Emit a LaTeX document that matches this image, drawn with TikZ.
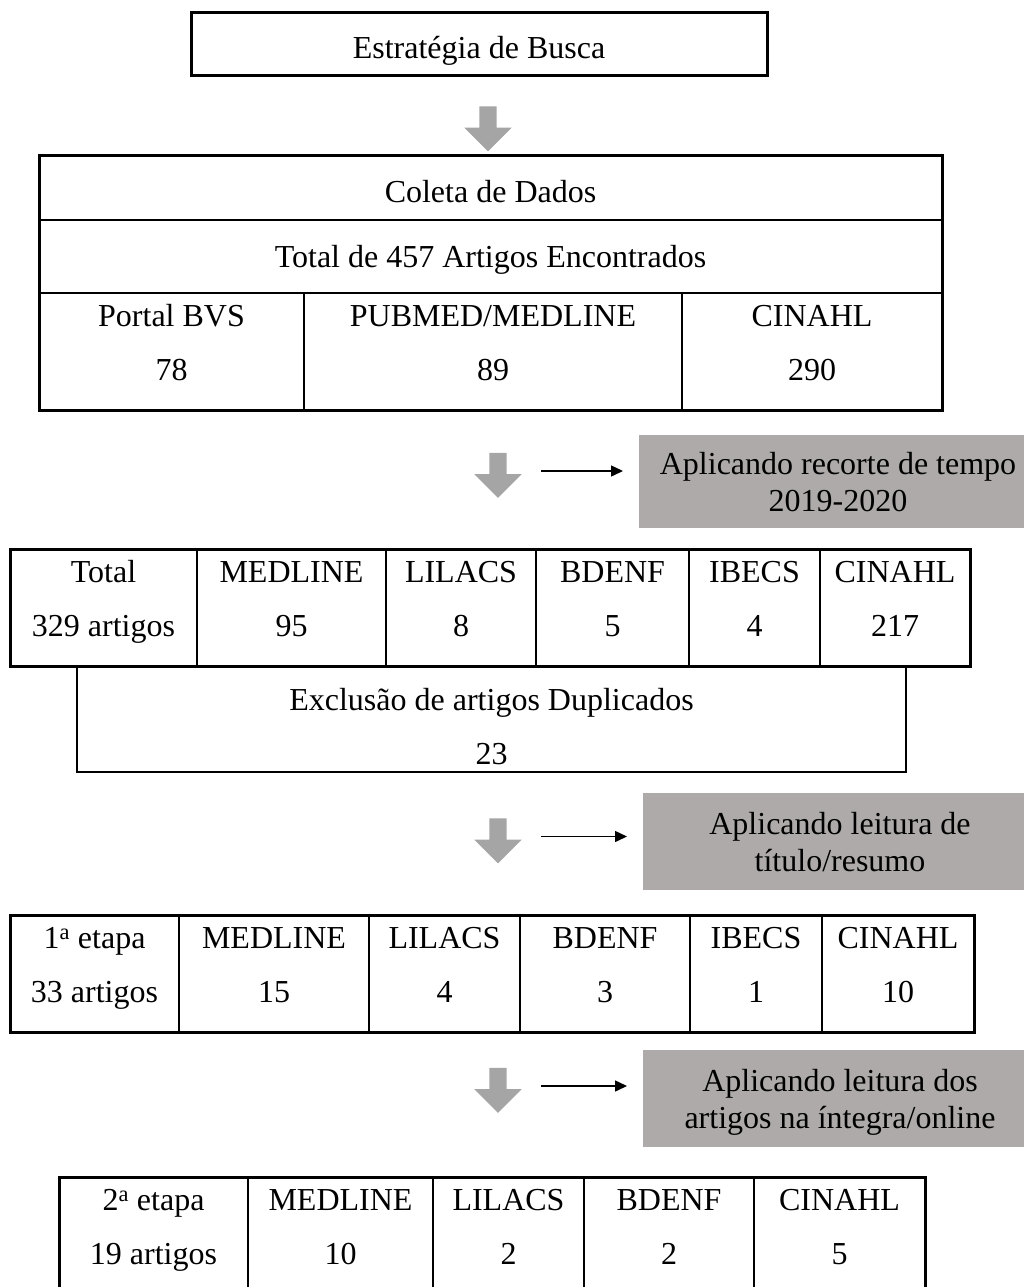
\documentclass[tikz,border=0pt]{standalone}
\usepackage{fontspec}
\setmainfont{Liberation Serif}
\usetikzlibrary{arrows.meta,positioning,shapes.arrows}
\definecolor{flowgray}{HTML}{A5A5A5}
\definecolor{cutgray}{HTML}{AEAAAA}

\begin{document}
\begin{tikzpicture}[x=1pt,y=-1pt,node distance=0pt, every node/.style={font=\fontsize{32}{54}\selectfont,align=center,inner sep=0pt,outer sep=0pt}]
\tikzset{cell/.style={draw,line width=2pt,minimum height=117pt,text height=76pt,text depth=18pt}, row/.style={text height=22pt,text depth=0pt}, frame/.style={line width=3pt}, down/.style={single arrow,fill=flowgray,shape border rotate=270,inner sep=8.5pt,minimum height=45pt,single arrow head extend=15pt}, cut/.style={fill=cutgray,minimum width=394pt,minimum height=97pt,text height=59pt,text depth=0pt,font=\fontsize{32}{37}\selectfont}, link/.style={-{Triangle[length=12pt,width=11pt]},line width=1.5pt,shorten <=43pt,shorten >=16pt}}
\useasboundingbox (0,0) rectangle (1023,1287);
% search and data collection
\node[cell,row,text height=29pt,minimum width=576pt,minimum height=63pt,line width=3pt] (busca) at (479,44.5) {Estratégia de Busca};
\node[down] (d1) at (488,124.5) {};
\node[cell,row,text height=30pt,minimum width=903pt,minimum height=65pt] (coleta) at (490.5,187.5) {Coleta de Dados};
\node[cell,row,minimum width=903pt,minimum height=73pt,below=of coleta] (total) {Total de 457 Artigos Encontrados};
\node[cell,minimum width=265pt,anchor=north west] (bvs) at (total.south west) {Portal BVS\\78};
\node[cell,minimum width=378pt,right=of bvs] (pubmed) {PUBMED/MEDLINE\\89};
\node[cell,minimum width=260pt,right=of pubmed] (cin1) {CINAHL\\290};
\draw[frame] (coleta.north west) rectangle (cin1.south east);
% time filter
\node[down] (d2) at (498,471) {};
\node[cut,minimum width=398pt,minimum height=93pt] (cut1) at (838,481.5) {Aplicando recorte de tempo\\2019-2020};
\draw[link] (d2.center) -- (d2.center -| cut1.west);
\node[cell,minimum width=187pt] (tot2) at (103.5,607.5) {Total\\329 artigos};
\node[cell,minimum width=189pt,right=of tot2] (med2) {MEDLINE\\95};
\node[cell,minimum width=150pt,right=of med2] (lil2) {LILACS\\8};
\node[cell,minimum width=153pt,right=of lil2] (bde2) {BDENF\\5};
\node[cell,minimum width=131pt,right=of bde2] (ibe2) {IBECS\\4};
\node[cell,minimum width=150pt,right=of ibe2] (cin2) {CINAHL\\217};
\draw[frame] (tot2.north west) rectangle (cin2.south east);
\node[cell,text height=98pt,text depth=7pt,minimum width=829pt,minimum height=106pt] (dup) at (491.5,719) {Exclusão de artigos Duplicados\\23};
% title/abstract reading
\node[down] (d3) at (498,836.5) {};
\node[cut] (cut2) at (840,841.5) {Aplicando leitura de\\título/resumo};
\draw[link] (d3.center) -- (d3.center -| cut2.west);
\node[cell,minimum width=169pt] (tot3) at (94.5,973.5) {1\textsuperscript{a} etapa\\33 artigos};
\node[cell,minimum width=190pt,right=of tot3] (med3) {MEDLINE\\15};
\node[cell,minimum width=151pt,right=of med3] (lil3) {LILACS\\4};
\node[cell,minimum width=170pt,right=of lil3] (bde3) {BDENF\\3};
\node[cell,minimum width=132pt,right=of bde3] (ibe3) {IBECS\\1};
\node[cell,minimum width=152pt,right=of ibe3] (cin3) {CINAHL\\10};
\draw[frame] (tot3.north west) rectangle (cin3.south east);
% full-text reading
\node[down] (d4) at (498,1086) {};
\node[cut] (cut3) at (840,1098.5) {Aplicando leitura dos\\artigos na íntegra/online};
\draw[link] (d4.center) -- (d4.center -| cut3.west);
\node[cell,minimum width=189pt] (tot4) at (153.5,1235.5) {2\textsuperscript{a} etapa\\19 artigos};
\node[cell,minimum width=185pt,right=of tot4] (med4) {MEDLINE\\10};
\node[cell,minimum width=151pt,right=of med4] (lil4) {LILACS\\2};
\node[cell,minimum width=170pt,right=of lil4] (bde4) {BDENF\\2};
\node[cell,minimum width=171pt,right=of bde4] (cin4) {CINAHL\\5};
\draw[frame] (tot4.north west) rectangle (cin4.south east);
\end{tikzpicture}
\end{document}
